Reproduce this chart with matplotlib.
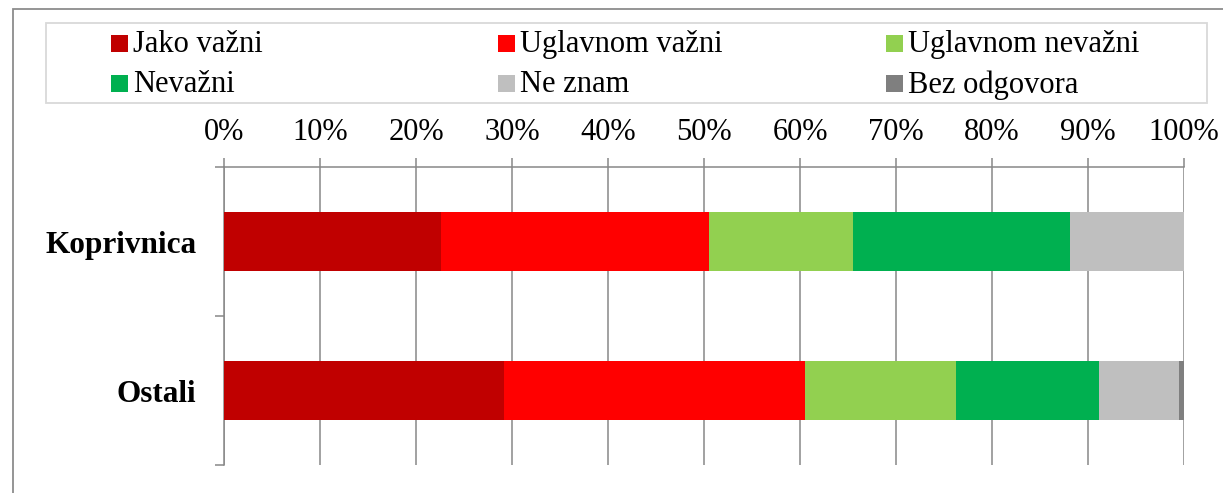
import matplotlib
matplotlib.use("Agg")
import matplotlib.pyplot as plt
from matplotlib.patches import Rectangle
import numpy as np

# data (percent)
categories = ["Koprivnica", "Ostali"]
series_names = ["Jako važni", "Uglavnom važni", "Uglavnom nevažni",
                "Nevažni", "Ne znam", "Bez odgovora"]
jako_vazni = [22.6, 29.2]
uglavnom_vazni = [27.9, 31.3]
uglavnom_nevazni = [15.0, 15.8]
nevazni = [22.6, 14.8]
ne_znam = [11.9, 8.4]
bez_odgovora = [0.0, 0.5]
tick_labels = ["0%", "10%", "20%", "30%", "40%", "50%",
               "60%", "70%", "80%", "90%", "100%"]

colors = ["#C00000", "#FF0000", "#92D050", "#00B050", "#BFBFBF", "#7F7F7F"]
grid_col = "#888888"

plt.rcParams["font.family"] = ["Liberation Serif", "DejaVu Serif"]

W, H = 1223, 493
fig = plt.figure(figsize=(W / 100, H / 100), dpi=100)

def fx(px):
    return px / W

def fy(py):
    return 1 - py / H

# outer chart frame (cut off at right/bottom as in the reference)
fig.add_artist(Rectangle((fx(12.5), fy(600)), fx(1300), fy(9) - fy(600),
                         transform=fig.transFigure, fill=False,
                         edgecolor="#8C8C8C", lw=1.3))

ax = fig.add_axes([fx(224), fy(465), fx(1184) - fx(224), fy(167) - fy(465)])

values = [jako_vazni, uglavnom_vazni, uglavnom_nevazni, nevazni, ne_znam, bez_odgovora]
y = np.arange(len(categories))
left = np.zeros(len(categories))
for vals, col, name in zip(values, colors, series_names):
    ax.barh(y, vals, left=left, height=0.4, color=col, label=name, zorder=3)
    left += np.array(vals)

ax.set_xlim(0, 100)
ax.set_ylim(1.5, -0.5)
ax.set_xticks(np.arange(0, 101, 10))
ax.set_xticklabels(tick_labels)
ax.xaxis.tick_top()
ax.xaxis.grid(True, color=grid_col, lw=1.1, zorder=0)
ax.tick_params(axis="x", length=6.5, width=1.1, color=grid_col,
               labelsize=22, pad=8)

ax.set_yticks(y)
ax.set_yticklabels(categories, fontweight="bold", fontsize=22.5)
ax.set_yticks([-0.5, 0.5, 1.5], minor=True)
ax.tick_params(axis="y", which="major", length=0, pad=20)
ax.tick_params(axis="y", which="minor", length=6.5, width=1.1, color=grid_col)

for s in ["right", "bottom"]:
    ax.spines[s].set_visible(False)
for s in ["top", "left"]:
    ax.spines[s].set_color(grid_col)
    ax.spines[s].set_linewidth(1.1)

# legend box, entries laid out row by row like the original
fig.add_artist(Rectangle((fx(46), fy(102.5)), fx(1207) - fx(46), fy(22.7) - fy(102.5),
                         transform=fig.transFigure, fill=False,
                         edgecolor="#D9D9D9", lw=1.3))
col_x = [111, 498, 886]
row_base = [52, 92.5]
for i, (name, col) in enumerate(zip(series_names, colors)):
    r, c = divmod(i, 3)
    x0 = col_x[c]
    fig.add_artist(Rectangle((fx(x0), fy(row_base[r] - 0.5)), fx(17), fy(0) - fy(17),
                             transform=fig.transFigure, color=col, lw=0))
    fig.text(fx(x0 + 22), fy(row_base[r]), name, fontsize=22, va="baseline", ha="left")

fig.savefig("out.png", dpi=100)
